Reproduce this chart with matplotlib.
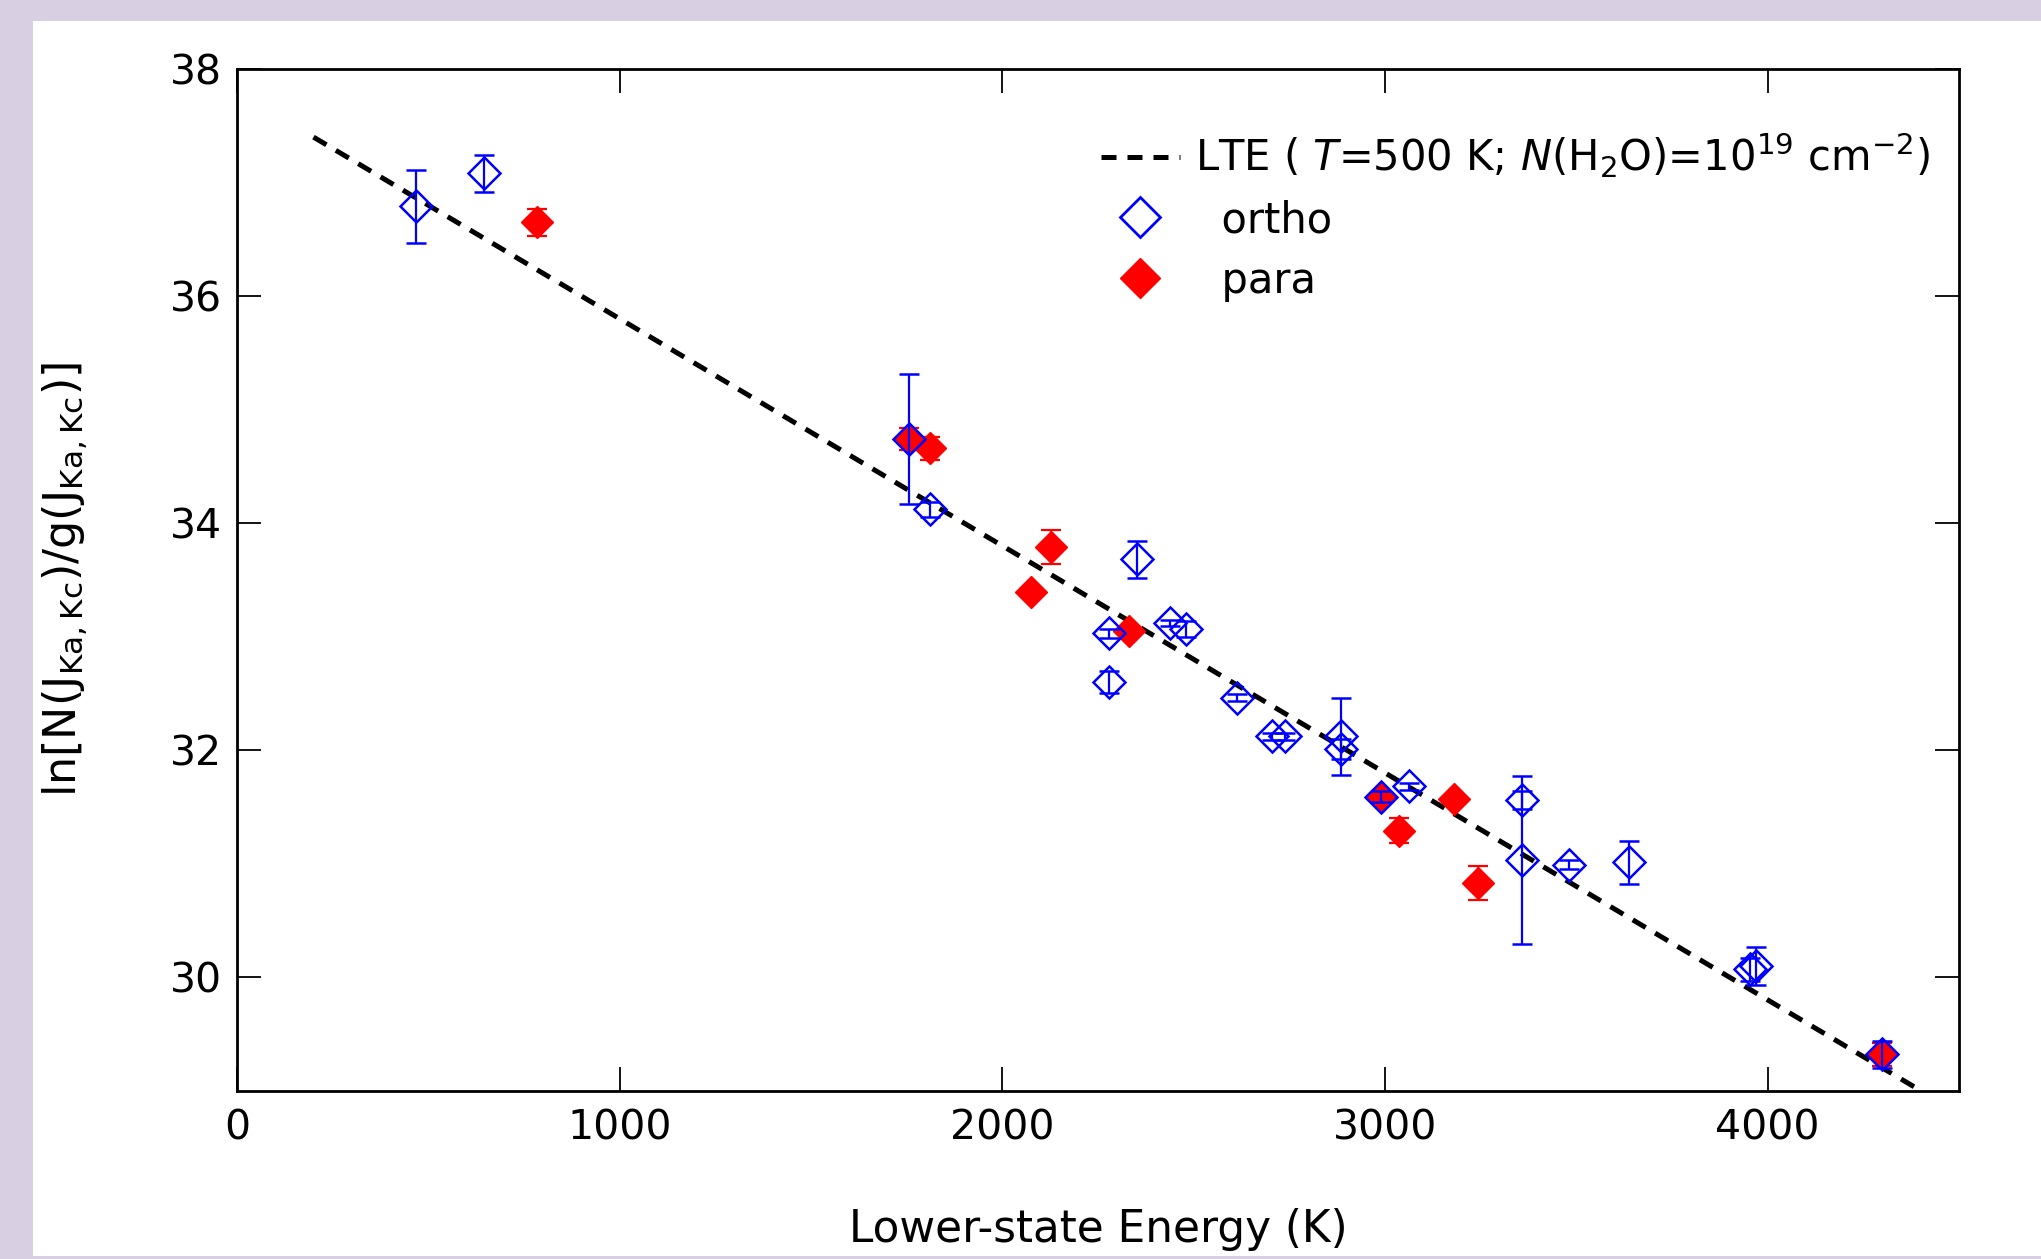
import numpy as np
import matplotlib.pyplot as plt
from matplotlib.patches import Rectangle
from matplotlib.lines import Line2D

plt.rcParams['font.family'] = ['DejaVu Sans']
plt.rcParams['mathtext.fontset'] = 'dejavusans'

# ortho-H2O levels: lower-state energy (K), ln(N/g), error
ortho_e = [469, 646, 1755, 1811, 2280, 2280, 2353, 2438, 2480, 2614, 2704, 2739,
           2884, 2884, 2990, 3064, 3357, 3357, 3482, 3638, 3953, 3969, 4300]
ortho_y = [36.79, 37.08, 34.74, 34.12, 33.03, 32.60, 33.68, 33.12, 33.07, 32.46, 32.12, 32.12,
           32.12, 32.01, 31.59, 31.68, 31.56, 31.03, 30.99, 31.01, 30.07, 30.10, 29.32]
ortho_err = [0.32, 0.16, 0.57, 0.07, 0.04, 0.10, 0.16, 0.03, 0.07, 0.03, 0.03, 0.03,
             0.34, 0.09, 0.05, 0.03, 0.08, 0.74, 0.04, 0.19, 0.10, 0.17, 0.12]

# para-H2O levels
para_e = [783, 1755, 1811, 2074, 2127, 2332, 2990, 3037, 3180, 3242, 4300]
para_y = [36.65, 34.74, 34.66, 33.39, 33.79, 33.05, 31.59, 31.29, 31.57, 30.83, 29.32]
para_err = [0.12, 0.10, 0.10, 0.03, 0.15, 0.03, 0.05, 0.11, 0.03, 0.15, 0.10]

# LTE model: T = 500 K
T_lte = 500.0
lte_const = 37.80
e_lte = np.array([200, 4400])
y_lte = lte_const - e_lte / T_lte

fig = plt.figure(figsize=(20.41, 12.59), dpi=100)
fig.patch.set_facecolor('#d8cfe2')
fig.add_artist(Rectangle((0.016, 0.002), 0.984, 0.9816, transform=fig.transFigure,
                         facecolor='white', edgecolor='none', zorder=-10))

ax = fig.add_axes([0.1161, 0.1337, 0.8437, 0.8115])
ax.set_zorder(1)

ax.plot(e_lte, y_lte, color='black', lw=3.6, dashes=(3.0, 2.2), zorder=2)

ax.errorbar(para_e, para_y, yerr=para_err, fmt='D', ms=16, mfc='red', mec='red',
            color='red', ecolor='red', elinewidth=1.6, capsize=7, capthick=1.6, zorder=3)
ax.errorbar(ortho_e, ortho_y, yerr=ortho_err, fmt='D', ms=16, mfc='none', mec='blue',
            mew=1.8, color='blue', ecolor='blue', elinewidth=1.6, capsize=7, capthick=1.6,
            zorder=4)

ax.set_xlim(0, 4500)
ax.set_ylim(29, 38)
ax.set_xticks([0, 1000, 2000, 3000, 4000])
ax.set_yticks([30, 32, 34, 36, 38])
ax.tick_params(direction='in', length=17, width=1.3, top=True, right=True,
               labelsize=29.5)
ax.tick_params(axis='x', pad=13)
ax.tick_params(axis='y', pad=11)
for s in ax.spines.values():
    s.set_linewidth(2)

ax.set_xlabel('Lower-state Energy (K)', fontsize=31.5)
ax.xaxis.set_label_coords(0.5, -0.136)
ax.xaxis.label.set_va('center')
ax.set_ylabel(r'ln[N(J$_{\mathregular{Ka,Kc}}$)/g(J$_{\mathregular{Ka,Kc}}$)]', fontsize=32)
ax.yaxis.set_label_coords(-0.100, 0.5)
ax.yaxis.label.set_va('center')

handles = [Line2D([], [], color='black', lw=3.6, dashes=(3.0, 2.2)),
           Line2D([], [], ls='none', marker='D', ms=20, mfc='none', mec='blue', mew=2),
           Line2D([], [], ls='none', marker='D', ms=20, mfc='red', mec='red')]
labels = [r'LTE ( $T$=500 K; $N$(H$_2$O)=10$^{19}$ cm$^{-2}$)', '  ortho', '  para']
ax.legend(handles, labels, loc='upper right', bbox_to_anchor=(1.0, 0.968),
          frameon=False, fontsize=30, handlelength=1.9, handletextpad=0.35,
          labelspacing=0.45, borderaxespad=0.3)

fig.savefig('out.png', dpi=100, facecolor=fig.get_facecolor())
